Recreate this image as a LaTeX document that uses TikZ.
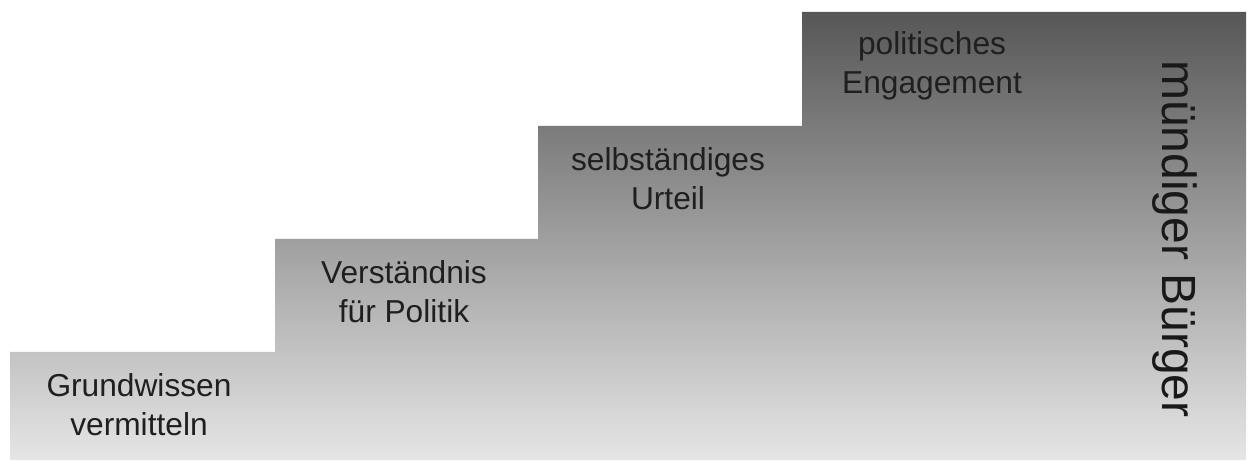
\documentclass[tikz,border=0pt]{standalone}
\usepackage{fontspec}
\setmainfont{Liberation Sans}
\begin{document}
\begin{tikzpicture}[x=1pt,y=-1pt,
  lbl/.style={align=center,text=black!88,font=\fontsize{31.7}{39}\selectfont,inner sep=0pt},
  big/.style={text=black!90,font=\fontsize{48}{52}\selectfont,inner sep=0pt,rotate=-90}]
\useasboundingbox (0,0) rectangle (1248,462);
\fill[white] (0,0) rectangle (1248,462);
\shade[top color=black!66,bottom color=black!10]
  (10,460) -- (10,352) -- (275,352) -- (275,239) -- (538,239) -- (538,126)
  -- (802,126) -- (802,12) -- (1246,12) -- (1246,460) -- cycle;
\node[lbl] (s1) at (139,405) {Grundwissen\\vermitteln};
\node[lbl] (s2) at (404,292) {Verständnis\\für Politik};
\node[lbl] (s3) at (668,179) {selbständiges\\Urteil};
\node[lbl] (s4) at (932,66) {politisches\\Engagement};
\node[big] (mb) at (1175,239) {mündiger Bürger};
\end{tikzpicture}
\end{document}
